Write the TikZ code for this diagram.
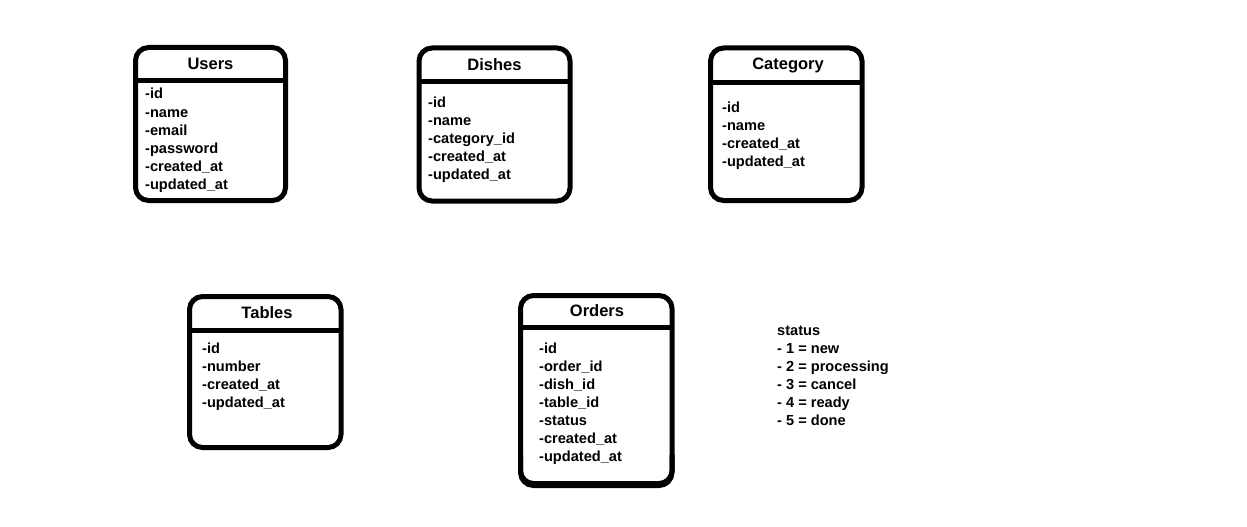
\documentclass[tikz,border=0pt]{standalone}
\usepackage{fontspec}
\setmainfont{Liberation Sans}
\begin{document}
\begin{tikzpicture}[x=1pt,y=-1pt,
  tbl/.style={draw=black, line width=5pt, rounded corners=13pt, anchor=north west, inner sep=0pt, outer sep=0pt, fill=white},
  sepline/.style={line width=5pt},
  ttl/.style={font=\fontsize{16.5}{16.5}\selectfont\bfseries, anchor=base, inner sep=0pt},
  fld/.style={font=\fontsize{14.6}{14.6}\selectfont\bfseries, anchor=base west, inner sep=0pt}]
\useasboundingbox[fill=white] (0,0) rectangle (1247,527);
% Users
\node[tbl, minimum width=150pt, minimum height=153pt] (users) at (135.5,47.5) {};
\draw[sepline] (users.west |- 0,80) -- (users.east |- 0,80);
\node[ttl] (usersT) at (210.5,69.5) {Users};
\foreach \t [count=\i] in {-id,-name,-email,-password,-created\_at,-updated\_at}
  \node[fld] (u\i) at (145,99+18*\i-18) {\t};
% Dishes
\node[tbl, minimum width=151pt, minimum height=153pt] (dishes) at (419,48) {};
\draw[sepline] (dishes.west |- 0,81) -- (dishes.east |- 0,81);
\node[ttl] (dishesT) at (494.5,70.5) {Dishes};
\foreach \t [count=\i] in {-id,-name,-category\_id,-created\_at,-updated\_at}
  \node[fld] (d\i) at (428,107+18*\i-18) {\t};
% Category
\node[tbl, minimum width=151.5pt, minimum height=152.5pt] (category) at (710.5,48) {};
\draw[sepline] (category.west |- 0,82) -- (category.east |- 0,82);
\node[ttl] (categoryT) at (788,69.5) {Category};
\foreach \t [count=\i] in {-id,-name,-created\_at,-updated\_at}
  \node[fld] (c\i) at (722,112+18*\i-18) {\t};
% Tables
\node[tbl, minimum width=151.5pt, minimum height=151pt] (tables) at (189.5,296.5) {};
\draw[sepline] (tables.west |- 0,330) -- (tables.east |- 0,330);
\node[ttl] (tablesT) at (267,318.5) {Tables};
\foreach \t [count=\i] in {-id,-number,-created\_at,-updated\_at}
  \node[fld] (t\i) at (202,353+18*\i-18) {\t};
% Orders
\node[tbl, minimum width=151.5pt, minimum height=188pt] (orders) at (520.5,295.5) {};
\draw[sepline] (orders.west |- 0,327) -- (orders.east |- 0,327);
\draw[line width=5pt, rounded corners=13pt] (orders.west |- 0,455) -- (orders.west |- 0,485.5) -- (orders.east |- 0,485.5) -- (orders.east |- 0,455);
\node[ttl] (ordersT) at (597,316.5) {Orders};
\foreach \t [count=\i] in {-id,-order\_id,-dish\_id,-table\_id,-status,-created\_at,-updated\_at}
  \node[fld] (o\i) at (539,353+18*\i-18) {\t};
% status legend
\foreach \t [count=\i] in {status,- 1 = new,- 2 = processing,- 3 = cancel,- 4 = ready,- 5 = done}
  \node[fld] (s\i) at (777,335+18*\i-18) {\t};
\end{tikzpicture}
\end{document}
